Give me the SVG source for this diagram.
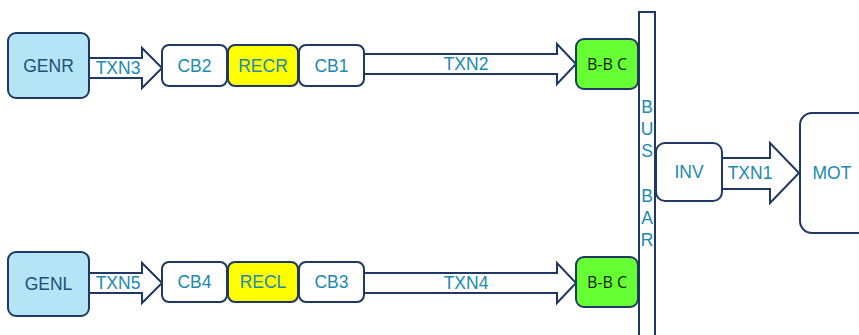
<svg xmlns="http://www.w3.org/2000/svg" width="859" height="335" viewBox="0 0 859 335">
<style>
.n{stroke:#1F3864;stroke-width:2}
.a{fill:#fff;stroke:#1F3864;stroke-width:2;stroke-linejoin:miter}
.t{font-family:"Liberation Sans",Arial,sans-serif;font-size:17.5px;fill:#2089B0;text-anchor:middle;dominant-baseline:central}
.d{fill:#1F4E79}
.t.k{fill:#1a1a1a;font-family:"Open Sans","Liberation Sans",sans-serif;font-size:16px}
</style>
<rect width="859" height="335" fill="#fff"/>
<g id="connectors">
<polygon class="a" points="89,58 142,58 142,48 162,68 142,88 142,78 89,78"/>
<polygon class="a" points="364,54 557,54 557,44 576,64 557,84 557,74 364,74"/>
<polygon class="a" points="89,273 142,273 142,263 162,283 142,303 142,293 89,293"/>
<polygon class="a" points="364,273 557,273 557,263 576,283 557,303 557,293 364,293"/>
<polygon class="a" points="722,158 770,158 770,143 799,173 770,203 770,189 722,189"/>
<text class="t" x="118" y="68">TXN3</text>
<text class="t" x="466" y="64">TXN2</text>
<text class="t" x="118" y="283">TXN5</text>
<text class="t" x="466" y="283">TXN4</text>
<text class="t" x="750" y="173">TXN1</text>
</g>
<g id="busbar">
<rect class="n" x="639" y="12" width="16" height="330" fill="#fff"/>
<text class="t" x="647" y="107">B</text>
<text class="t" x="647" y="129">U</text>
<text class="t" x="647" y="151">S</text>
<text class="t" x="647" y="196">B</text>
<text class="t" x="647" y="218">A</text>
<text class="t" x="647" y="240">R</text>
</g>
<g id="GENR"><rect class="n" x="8" y="33" width="81" height="65" rx="8" fill="#B3E5F7"/><text class="t d" x="48.5" y="66">GENR</text></g>
<g id="CB2"><rect class="n" x="162" y="45" width="65" height="41" rx="7" fill="#fff"/><text class="t" x="194.5" y="65.5">CB2</text></g>
<g id="RECR"><rect class="n" x="228" y="45" width="70" height="41" rx="7" fill="#FFFF00"/><text class="t" x="263" y="65.5">RECR</text></g>
<g id="CB1"><rect class="n" x="299" y="45" width="65" height="41" rx="7" fill="#fff"/><text class="t" x="331.5" y="65.5">CB1</text></g>
<g id="BBC1"><rect class="n" x="576" y="39" width="62" height="50" rx="8" fill="#66FF33"/><text class="t k" x="607" y="64">B-B C</text></g>
<g id="GENL"><rect class="n" x="8" y="252" width="81" height="64" rx="8" fill="#B3E5F7"/><text class="t d" x="48.5" y="284">GENL</text></g>
<g id="CB4"><rect class="n" x="162" y="262" width="65" height="40" rx="7" fill="#fff"/><text class="t" x="194.5" y="282">CB4</text></g>
<g id="RECL"><rect class="n" x="228" y="262" width="70" height="40" rx="7" fill="#FFFF00"/><text class="t" x="263" y="282">RECL</text></g>
<g id="CB3"><rect class="n" x="299" y="262" width="65" height="40" rx="7" fill="#fff"/><text class="t" x="331.5" y="282">CB3</text></g>
<g id="BBC2"><rect class="n" x="576" y="257" width="62" height="50" rx="8" fill="#66FF33"/><text class="t k" x="607" y="282">B-B C</text></g>
<g id="INV"><rect class="n" x="656" y="143" width="66" height="58" rx="9" fill="#fff"/><text class="t" x="689" y="172">INV</text></g>
<g id="MOT"><rect class="n" x="800" y="113" width="80" height="120" rx="12" fill="#fff"/><text class="t" x="832" y="173">MOT</text></g>
</svg>
